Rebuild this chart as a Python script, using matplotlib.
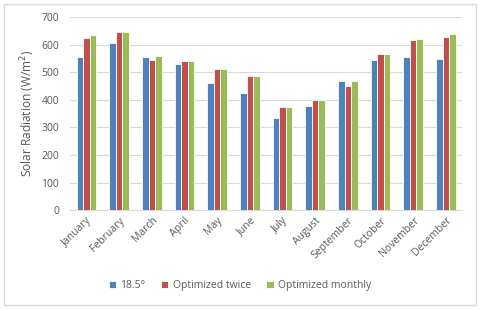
import matplotlib
matplotlib.use("Agg")
import matplotlib.pyplot as plt
import numpy as np
from matplotlib.patches import Rectangle

months = ["January", "February", "March", "April", "May", "June", "July",
          "August", "September", "October", "November", "December"]
fixed = [556, 607, 556, 528, 462, 425, 335, 378, 467, 545, 555, 547]
opt_twice = [625, 646, 544, 540, 510, 487, 374, 400, 449, 565, 615, 627]
opt_monthly = [636, 646, 560, 540, 510, 487, 374, 400, 467, 565, 620, 639]
series_names = ["18.5°", "Optimized twice", "Optimized monthly"]
colors = ["#4F81BD", "#C0504D", "#9BBB59"]

plt.rcParams['font.family'] = ['Open Sans', 'DejaVu Sans']
fig = plt.figure(figsize=(4.8, 3.09), dpi=100)
ax = fig.add_axes([0.146, 0.32, 0.817, 0.625])

x = np.arange(len(months))
w = 0.2
for i, (vals, name, c) in enumerate(zip([fixed, opt_twice, opt_monthly], series_names, colors)):
    ax.bar(x + (i - 1) * w, vals, width=w, color=c, edgecolor="white", linewidth=0.6,
           label=name, zorder=3)

ax.set_xlim(-0.5, 11.5)
ax.set_ylim(0, 700)
ax.set_yticks(range(0, 701, 100))
ax.yaxis.grid(True, color="#D9D9D9", linewidth=0.8, zorder=0)
ax.set_axisbelow(True)
for s in ["top", "right", "left"]:
    ax.spines[s].set_visible(False)
ax.spines["bottom"].set_color("#D9D9D9")
ax.tick_params(axis="both", length=0, labelsize=7.5, colors="#595959")
ax.tick_params(axis="y", pad=8)
ax.set_xticks(x)
ax.set_xticklabels(months, rotation=45, ha="right", rotation_mode="anchor")
ax.set_ylabel("Solar Radiation (W/m$^2$)", fontsize=8.6, color="#595959", labelpad=3)

leg = fig.legend(loc="center", bbox_to_anchor=(0.5, 0.075), ncol=3, frameon=False,
                 fontsize=7.5, handlelength=0.7, handleheight=0.7, handletextpad=0.4,
                 columnspacing=1.5)
for t in leg.get_texts():
    t.set_color("#595959")

fig.patches.append(Rectangle((0.008, 0.012), 0.984, 0.976, transform=fig.transFigure,
                             fill=False, edgecolor="#D9D9D9", linewidth=1))

fig.savefig("out.png", dpi=100)
